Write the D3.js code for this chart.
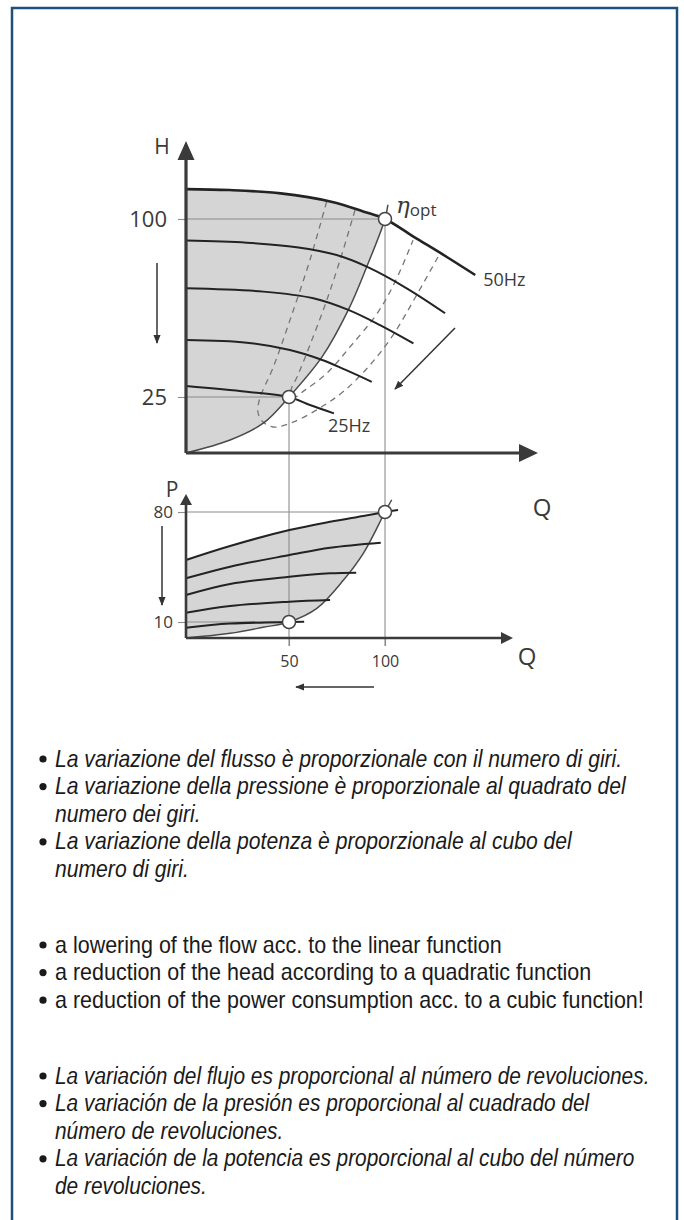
<!DOCTYPE html>
<html>
<head>
<meta charset="utf-8">
<script src="https://cdn.jsdelivr.net/npm/d3@7"></script>
<style>
body { margin: 0; background: #fff; }
</style>
</head>
<body>
<div id="chart"></div>
<script>
// Q = flow in % of nominal, H = head in %, P = power in %
// Head curves (top chart), from 50Hz down to 25Hz
var head50Q = [0, 21, 46, 72, 89, 100, 115, 132, 147];
var head50H = [112.6, 112.2, 110.8, 107.3, 103.1, 100, 92.5, 84.1, 76.4];
var head45Q = [0, 29.5, 54, 74.8, 90.5, 111.3, 131.3];
var head45H = [90.9, 90.0, 88.1, 84.8, 79.9, 70.8, 60.3];
var head40Q = [0, 37.5, 62.7, 80.9, 97.4, 114.8];
var head40H = [70.8, 69.4, 66.6, 61.7, 55.3, 47.6];
var head35Q = [0, 29.5, 50.5, 67.3, 79.5, 93.1];
var head35H = [49, 47.9, 44.8, 40.6, 36.4, 31.4];
var head25Q = [0, 29.5, 50, 60.9, 73.4];
var head25H = [29.6, 27.2, 25, 21.4, 17.7];

// system curve (quadratic)
var systemQ = [0, 21.4, 37.5, 50, 67.3, 80.9, 90.5, 100, 101.5];
var systemH = [0, 5.8, 13.3, 25, 42, 61.7, 79.9, 100, 106];

// iso-efficiency loops (dashed)
var etaOuterQ = [69.6, 60.9, 50.5, 42.2, 35.9, 34.9, 36.9, 42.2, 52.1, 66.1, 79.2, 92.2, 104.2, 115.6, 127.6];
var etaOuterH = [107.3, 82.7, 57.4, 37.2, 24.6, 18.3, 14.3, 11.6, 13.8, 20.1, 27.9, 38.5, 51.1, 66.7, 84.0];
var etaInnerQ = [84.4, 76.6, 68.8, 60.9, 54.7, 51.0, 52.4, 58.3, 69.8, 81.8, 96.4, 105.7, 114.6];
var etaInnerH = [103.8, 82.7, 63.8, 46.9, 34.3, 27.5, 24.8, 27.9, 35.1, 46.1, 60.8, 74.3, 91.1];

// Power curves (bottom chart)
var power50Q = [0, 21.4, 50.2, 71.4, 88.7, 100, 106.8];
var power50P = [49.5, 58.4, 68.5, 73.8, 77.5, 80, 81.3];
var power45Q = [0, 21.4, 50.2, 71.4, 97.8];
var power45P = [37.8, 45.2, 52.6, 57.3, 60.5];
var power40Q = [0, 21.4, 50.2, 71.4, 85];
var power40P = [27.2, 34.2, 38.8, 41.0, 41.4];
var power35Q = [0, 21.4, 50.2, 71.4];
var power35P = [15.9, 20.2, 22.9, 24.0];
var power25Q = [0, 21.4, 50, 57.9];
var power25P = [6.4, 9.0, 10, 10.1];

// power along the system curve (cubic)
var powerSysQ = [0, 21.4, 37.5, 50, 64.5, 78.4, 88.7, 100, 103.5];
var powerSysP = [0, 2.9, 6.7, 10, 18.7, 36.7, 53.7, 80, 87.8];

// ticks and operating points
var headTicks = [25, 100];
var powerTicks = [10, 80];
var flowTicks = [50, 100];
var headPointsQ = [100, 50];
var headPointsH = [100, 25];
var powerPointsQ = [100, 50];
var powerPointsP = [80, 10];

// texts
var italianItems = [
    ["La variazione del flusso è proporzionale con il numero di giri."],
    ["La variazione della pressione è proporzionale al quadrato del", "numero dei giri."],
    ["La variazione della potenza è proporzionale al cubo del", "numero di giri."]
];
var englishItems = [
    ["a lowering of the flow acc. to the linear function"],
    ["a reduction of the head according to a quadratic function"],
    ["a reduction of the power consumption acc. to a cubic function!"]
];
var spanishItems = [
    ["La variación del flujo es proporcional al número de revoluciones."],
    ["La variación de la presión es proporcional al cuadrado del", "número de revoluciones."],
    ["La variación de la potencia es proporcional al cubo del número", "de revoluciones."]
];

var chartFont = "'Open Sans', 'DejaVu Sans', sans-serif";
var textFont = "'Liberation Sans Narrow', 'Arial Narrow', 'Liberation Sans', sans-serif";

var svg = d3.select("#chart")
    .append("svg")
    .attr("width", 684)
    .attr("height", 1220);

// blue frame, open at the bottom
svg.append("rect")
    .attr("x", 12)
    .attr("y", 8)
    .attr("width", 665)
    .attr("height", 1240)
    .attr("fill", "none")
    .attr("stroke", "#1f4f7d")
    .attr("stroke-width", 2.5);

var defs = svg.append("defs");
defs.append("marker")
    .attr("id", "tip")
    .attr("viewBox", "0 0 10 10")
    .attr("refX", 9)
    .attr("refY", 5)
    .attr("markerWidth", 9)
    .attr("markerHeight", 9)
    .attr("markerUnits", "userSpaceOnUse")
    .attr("orient", "auto")
    .append("path")
    .attr("d", "M0,1L10,5L0,9Z")
    .attr("fill", "#333");

// scales
var x = d3.scaleLinear().domain([0, 50, 100]).range([186, 289, 385]);
var yH = d3.scaleLinear().domain([0, 25, 100]).range([453, 397, 219]);
var yP = d3.scaleLinear().domain([0, 10, 80]).range([638, 622, 512]);

function pts(qs, vs) {
    return qs.map(function(q, i) { return [q, vs[i]]; });
}

var headLine = d3.line()
    .x(d => x(d[0]))
    .y(d => yH(d[1]))
    .curve(d3.curveCatmullRom.alpha(0.5));

var powerLine = d3.line()
    .x(d => x(d[0]))
    .y(d => yP(d[1]))
    .curve(d3.curveCatmullRom.alpha(0.5));

// shaded regions: between the 50Hz curve and the system curve
function shade(line, top, bottom) {
    var upper = top.filter(d => d[0] <= 100);
    var lower = bottom.filter(d => d[0] <= 100).reverse();
    return line(upper) + "L" + line(lower).slice(1) + "Z";
}

svg.append("path")
    .attr("d", shade(headLine, pts(head50Q, head50H), pts(systemQ, systemH)))
    .attr("fill", "#d5d5d5");

svg.append("path")
    .attr("d", shade(powerLine, pts(power50Q, power50P), pts(powerSysQ, powerSysP)))
    .attr("fill", "#d5d5d5");

// reference lines
var grid = svg.append("g")
    .attr("stroke", "#8c8c8c")
    .attr("stroke-width", 1.1);

headPointsQ.forEach(function(q, i) {
    grid.append("line")
        .attr("x1", x(0)).attr("x2", x(q))
        .attr("y1", yH(headPointsH[i])).attr("y2", yH(headPointsH[i]));
    grid.append("line")
        .attr("x1", x(q)).attr("x2", x(q))
        .attr("y1", yH(headPointsH[i])).attr("y2", yP(0) + 8);
});
powerPointsQ.forEach(function(q, i) {
    grid.append("line")
        .attr("x1", x(0)).attr("x2", x(q))
        .attr("y1", yP(powerPointsP[i])).attr("y2", yP(powerPointsP[i]));
});

// dashed efficiency loops
[pts(etaOuterQ, etaOuterH), pts(etaInnerQ, etaInnerH)].forEach(function(loop) {
    svg.append("path")
        .attr("d", headLine(loop))
        .attr("fill", "none")
        .attr("stroke", "#767676")
        .attr("stroke-width", 1.3)
        .attr("stroke-dasharray", "6,5");
});

// system curves
svg.append("path")
    .attr("d", headLine(pts(systemQ, systemH)))
    .attr("fill", "none")
    .attr("stroke", "#4a4a4a")
    .attr("stroke-width", 1.5);

svg.append("path")
    .attr("d", powerLine(pts(powerSysQ, powerSysP)))
    .attr("fill", "none")
    .attr("stroke", "#4a4a4a")
    .attr("stroke-width", 1.5);

// pump curves
var headCurves = [pts(head50Q, head50H), pts(head45Q, head45H), pts(head40Q, head40H),
                  pts(head35Q, head35H), pts(head25Q, head25H)];
svg.selectAll(".headCurve")
    .data(headCurves)
    .enter()
    .append("path")
    .attr("class", "headCurve")
    .attr("d", d => headLine(d))
    .attr("fill", "none")
    .attr("stroke", "#232323")
    .attr("stroke-width", (d, i) => i === 0 ? 2.6 : 2);

var powerCurves = [pts(power50Q, power50P), pts(power45Q, power45P), pts(power40Q, power40P),
                   pts(power35Q, power35P), pts(power25Q, power25P)];
svg.selectAll(".powerCurve")
    .data(powerCurves)
    .enter()
    .append("path")
    .attr("class", "powerCurve")
    .attr("d", d => powerLine(d))
    .attr("fill", "none")
    .attr("stroke", "#232323")
    .attr("stroke-width", 2);

// axes with tick labels
var leftH = svg.append("g")
    .attr("transform", `translate(${x(0)}, 0)`)
    .call(d3.axisLeft(yH).tickValues(headTicks).tickSize(8).tickPadding(11));

var leftP = svg.append("g")
    .attr("transform", `translate(${x(0)}, 0)`)
    .call(d3.axisLeft(yP).tickValues(powerTicks).tickSize(8).tickPadding(5));

var bottomQ = svg.append("g")
    .attr("transform", `translate(0, ${yP(0)})`)
    .call(d3.axisBottom(x).tickValues(flowTicks).tickSize(8).tickPadding(10));

[leftH, leftP, bottomQ].forEach(function(ax) {
    ax.select(".domain").remove();
    ax.selectAll(".tick line").attr("stroke", "#8c8c8c").attr("stroke-width", 1.1);
    ax.selectAll(".tick text").attr("fill", "#3a3a3a").attr("font-family", chartFont);
});
leftH.selectAll(".tick text").attr("font-size", 22);
leftP.selectAll(".tick text").attr("font-size", 17);
bottomQ.selectAll(".tick text").attr("font-size", 16);

// axis lines with arrow heads
var axisColor = "#3a3a3a";
svg.append("path")
    .attr("d", `M${x(0)},${yH(0)}V159M${x(0)},${yH(0)}H520`)
    .attr("fill", "none")
    .attr("stroke", axisColor)
    .attr("stroke-width", 3.2);
svg.append("path")
    .attr("d", `M${x(0) - 8.5},160L${x(0)},141L${x(0) + 8.5},160Z M519,${yH(0) - 9}L538,${yH(0)}L519,${yH(0) + 9}Z`)
    .attr("fill", axisColor);

svg.append("path")
    .attr("d", `M${x(0)},${yP(0)}V504M${x(0)},${yP(0)}H503`)
    .attr("fill", "none")
    .attr("stroke", axisColor)
    .attr("stroke-width", 2.6);
svg.append("path")
    .attr("d", `M${x(0) - 6},505L${x(0)},494L${x(0) + 6},505Z M501,${yP(0) - 6}L513,${yP(0)}L501,${yP(0) + 6}Z`)
    .attr("fill", axisColor);

// operating point circles
svg.selectAll(".hp")
    .data(pts(headPointsQ, headPointsH))
    .enter()
    .append("circle")
    .attr("class", "hp")
    .attr("cx", d => x(d[0]))
    .attr("cy", d => yH(d[1]))
    .attr("r", 6.5)
    .attr("fill", "#fff")
    .attr("stroke", "#444")
    .attr("stroke-width", 1.5);

svg.selectAll(".pp")
    .data(pts(powerPointsQ, powerPointsP))
    .enter()
    .append("circle")
    .attr("class", "pp")
    .attr("cx", d => x(d[0]))
    .attr("cy", d => yP(d[1]))
    .attr("r", 6.5)
    .attr("fill", "#fff")
    .attr("stroke", "#444")
    .attr("stroke-width", 1.5);

// direction arrows
var arrows = [
    [157, 263, 157, 343],
    [162, 526, 162, 605],
    [455, 328, 395, 389],
    [374, 687, 296, 687]
];
svg.selectAll(".arrow")
    .data(arrows)
    .enter()
    .append("line")
    .attr("class", "arrow")
    .attr("x1", d => d[0])
    .attr("y1", d => d[1])
    .attr("x2", d => d[2])
    .attr("y2", d => d[3])
    .attr("stroke", "#333")
    .attr("stroke-width", 1.5)
    .attr("marker-end", "url(#tip)");

// chart labels
var labels = svg.append("g")
    .attr("font-family", chartFont)
    .attr("fill", "#3a3a3a");

labels.append("text").attr("x", 162).attr("y", 154).attr("font-size", 21).attr("text-anchor", "middle").text("H");
labels.append("text").attr("x", 172).attr("y", 497).attr("font-size", 21).attr("text-anchor", "middle").text("P");
labels.append("text").attr("x", 542).attr("y", 516).attr("font-size", 24).attr("text-anchor", "middle").text("Q");
labels.append("text").attr("x", 527).attr("y", 665).attr("font-size", 24).attr("text-anchor", "middle").text("Q");
labels.append("text").attr("x", x(147) + 8).attr("y", 286).attr("font-size", 18).text("50Hz");
labels.append("text").attr("x", 328).attr("y", 432).attr("font-size", 18).text("25Hz");

var eta = labels.append("text")
    .attr("x", x(100) + 11)
    .attr("y", 213);
eta.append("tspan")
    .attr("font-family", "'DejaVu Serif', serif")
    .attr("font-style", "italic")
    .attr("font-size", 23)
    .text("\u03b7");
eta.append("tspan")
    .attr("font-size", 17)
    .attr("dy", 3)
    .text("opt");

// bullet text blocks
var lineStep = 27.6;
var blocks = [
    {items: italianItems, style: "italic", first: 759, widest: 571},
    {items: englishItems, style: "normal", first: 945, widest: 589},
    {items: spanishItems, style: "italic", first: 1076, widest: 595}
];

blocks.forEach(function(b) {
    var rows = [];
    b.items.forEach(function(item) {
        item.forEach(function(t, j) {
            rows.push({text: t, bullet: j === 0, row: rows.length});
        });
    });

    var g = svg.append("g")
        .attr("font-family", textFont)
        .attr("font-size", 23)
        .attr("font-style", b.style)
        .attr("fill", "#1a1a1a");

    var texts = g.selectAll(".line")
        .data(rows)
        .enter()
        .append("text")
        .attr("class", "line")
        .text(d => d.text);

    // squeeze horizontally to the condensed width of the original type
    var natural = texts.nodes().map(n => n.getComputedTextLength());
    var factor = b.widest / d3.max(natural);
    texts.attr("transform", d => `translate(55, ${b.first + 7.5 + d.row * lineStep}) scale(${factor}, 1)`);

    g.selectAll(".dot")
        .data(rows.filter(d => d.bullet))
        .enter()
        .append("circle")
        .attr("class", "dot")
        .attr("cx", 43)
        .attr("cy", d => b.first + d.row * lineStep)
        .attr("r", 3.6);
});
</script>
</body>
</html>
